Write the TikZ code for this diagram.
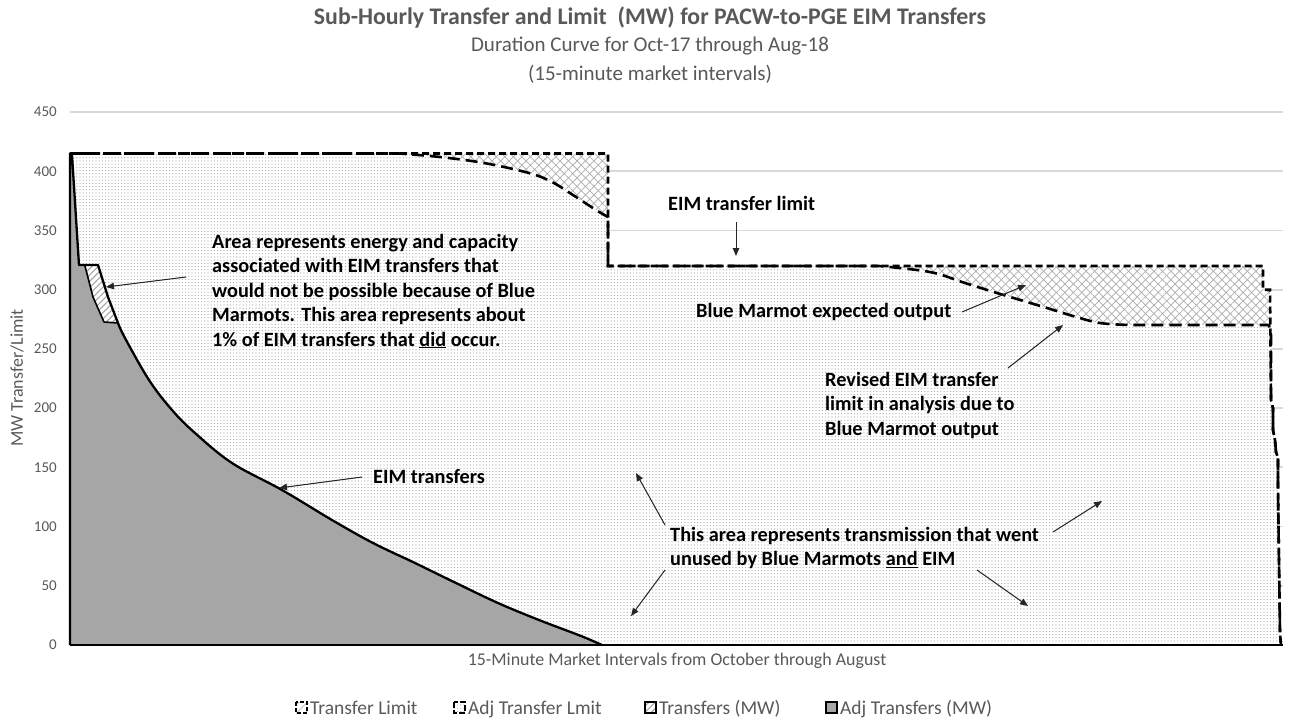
\documentclass[tikz,border=0pt]{standalone}
\usepackage{fontspec}
\setmainfont{Carlito}
\usetikzlibrary{patterns,patterns.meta,arrows.meta}
\definecolor{txtgray}{HTML}{595959}
\definecolor{gridgray}{HTML}{D9D9D9}
\definecolor{areagray}{HTML}{A6A6A6}
\def\TLpath{(70,645) -- (70,153.5) -- (608,153.5) -- (608,266) -- (1263,266) -- (1263,289.7) -- (1270,289.7) -- (1271,400) -- (1273,408) -- (1273,430) -- (1275,440) -- (1276,452) -- (1278,458) -- (1278,490) -- (1280,633) -- (1281,645) -- cycle}
\def\ALpath{(70,645) -- (70,153.5) -- (399,153.5) -- plot[smooth,tension=0.6] coordinates {(399,153.5) (440,157) (484,163) (529,173) (552,182) (573,195) (596,210) (608,217)} -- (608,266) -- (879,266) -- plot[smooth,tension=0.6] coordinates {(879,266) (930,272) (965,283) (997,293) (1047,308) (1073,316) (1100,323) (1130,325)} -- (1269,325) -- (1271,335) -- (1271,400) -- (1273,408) -- (1273,430) -- (1275,440) -- (1276,452) -- (1278,458) -- (1278,490) -- (1280,633) -- (1281,645) -- cycle}
\begin{document}
\begin{tikzpicture}[x=1pt,y=-1pt,
  grid/.style={draw=gridgray,line width=1.8pt},
  ticklab/.style={anchor=east,text=txtgray,inner sep=0pt,font=\fontsize{15}{18}\selectfont},
  note/.style={anchor=west,align=left,inner sep=0pt,font=\bfseries\fontsize{20.3}{24.5}\selectfont},
  arr/.style={-{Triangle[length=8pt,width=6.5pt]},line width=1pt,draw=black!85,fill=black},
  tlline/.style={draw=black,line width=2.6pt,dash pattern=on 7pt off 4pt},
  alline/.style={draw=black,line width=2.6pt,dash pattern=on 12pt off 6pt},
  outline/.style={draw=black,line width=2.3pt,line join=round},
  legtext/.style={anchor=base west,inner sep=0pt,text=txtgray,font=\fontsize{19.5}{22}\selectfont},
  weaveA/.style={pattern={Lines[angle=45,distance=6pt,line width=0.7pt]},pattern color=gray!65},
  weaveB/.style={pattern={Lines[angle=-45,distance=6pt,line width=0.7pt]},pattern color=gray!65},
  dotfill/.style={pattern={Dots[distance=3.2pt,radius=0.6pt]},pattern color=gray!70},
  hatch/.style={pattern={Lines[angle=45,distance=4.5pt,line width=1.1pt]},pattern color=gray!70},
  titlefont/.style={text=txtgray,inner sep=0pt}
]
\useasboundingbox (0,0) rectangle (1291,721);
\fill[white] (0,0) rectangle (1291,721);
% titles
\node[titlefont,font=\bfseries\fontsize{23.8}{28}\selectfont] (t1) at (650,18) {Sub-Hourly Transfer and Limit\ \ (MW) for PACW-to-PGE EIM Transfers};
\node[titlefont,font=\fontsize{21}{25}\selectfont] (t2) at (650,46) {Duration Curve for Oct-17 through Aug-18};
\node[titlefont,font=\fontsize{21}{25}\selectfont] (t3) at (650,74) {(15-minute market intervals)};
% gridlines and tick labels
\foreach \v in {50,100,...,450} {
  \draw[grid] (70,{645-\v*1.1844}) -- (1283,{645-\v*1.1844});
  \node[ticklab] (lab\v) at (57,{645-\v*1.1844}) {\v};
}
\node[ticklab] (lab0) at (57,645) {0};
% axis titles
\node[text=txtgray,rotate=90,inner sep=0pt,font=\fontsize{18}{21}\selectfont] (ytitle) at (17,378) {MW Transfer/Limit};
\node[text=txtgray,inner sep=0pt,font=\fontsize{17.9}{21}\selectfont] (xtitle) at (677,661) {15-Minute Market Intervals from October through August};
% Transfer limit area (weave)
\fill[white] \TLpath;
\fill[weaveA] \TLpath;
\fill[weaveB] \TLpath;
% Adj transfer limit area (dots)
\fill[white] \ALpath;
\fill[dotfill] \ALpath;
% Adj transfers (gray)
\fill[areagray] (70,645) -- (70,153.5) -- (72,155) -- (79,265) -- (85,266) -- (104,322) -- (118,323) -- plot[smooth,tension=0.6] coordinates {(118,323) (125,338) (149,380) (172,410) (195,433) (232,463) (282,490) (332,520) (373,543) (415,563) (456,583) (498,603) (539,620) (581,636) (602,645)} -- cycle;
% Transfers hatch
\fill[white] (79,265) -- (98,265) -- (108,297) -- (118,323) -- (104,322) -- (93,297) -- (85,266) -- cycle;
\fill[hatch] (79,265) -- (98,265) -- (108,297) -- (118,323) -- (104,322) -- (93,297) -- (85,266) -- cycle;
\draw[line width=1.6pt,line join=round] (85,266) -- (93,297) -- (104,322) -- (118,323);
\draw[outline] (70,645) -- (70,153.5) -- (72,155) -- (79,265) -- (98,265) -- (108,297) -- (118,323) -- plot[smooth,tension=0.6] coordinates {(118,323) (125,338) (149,380) (172,410) (195,433) (232,463) (282,490) (332,520) (373,543) (415,563) (456,583) (498,603) (539,620) (581,636) (602,645)};
% dashed limit lines
\draw[alline] (70,153.5) -- (399,153.5) -- plot[smooth,tension=0.6] coordinates {(399,153.5) (440,157) (484,163) (529,173) (552,182) (573,195) (596,210) (608,217)} -- (608,266) -- (879,266) -- plot[smooth,tension=0.6] coordinates {(879,266) (930,272) (965,283) (997,293) (1047,308) (1073,316) (1100,323) (1130,325)} -- (1269,325) -- (1271,335) -- (1271,400) -- (1273,408) -- (1273,430) -- (1275,440) -- (1276,452) -- (1278,458) -- (1278,490) -- (1280,633) -- (1281,645);
\draw[tlline] (70,153.5) -- (608,153.5) -- (608,266) -- (1263,266) -- (1263,289.7) -- (1270,289.7) -- (1271,400) -- (1273,408) -- (1273,430) -- (1275,440) -- (1276,452) -- (1278,458) -- (1278,490) -- (1280,633) -- (1281,645);
% x axis
\draw[line width=2.4pt] (70,645) -- (1283,645);
% annotations
\node[note] (area) at (212,291) {Area represents energy and capacity\\associated with EIM transfers that\\would not be possible because of Blue\\Marmots. This area represents about\\1\% of EIM transfers that \underline{did} occur.};
\node[note] (limitlbl) at (668,203) {EIM transfer limit};
\node[note] (bmout) at (696,312) {Blue Marmot expected output};
\node[note] (revised) at (825,405) {Revised EIM transfer\\limit in analysis due to\\Blue Marmot output};
\node[note] (unused) at (670,548) {This area represents transmission that went\\unused by Blue Marmots \underline{and} EIM};
\node[note] (eimtr) at (373,477) {EIM transfers};
% arrow coordinates
\coordinate (a1s) at (186,277); \coordinate (a1e) at (106,287);
\coordinate (a2s) at (736,222); \coordinate (a2e) at (736,256);
\coordinate (a3s) at (962,312); \coordinate (a3e) at (1026,285);
\coordinate (a4s) at (1008,368); \coordinate (a4e) at (1063,325);
\coordinate (a5s) at (362,477); \coordinate (a5e) at (279,488);
\coordinate (a6s) at (665,525); \coordinate (a6e) at (636,473);
\coordinate (a7s) at (665,570); \coordinate (a7e) at (631,616);
\coordinate (a8s) at (977,570); \coordinate (a8e) at (1028,606);
\coordinate (a9s) at (1053,532); \coordinate (a9e) at (1102,501);
\foreach \i in {1,...,9} { \draw[arr] (a\i s) -- (a\i e); }
% legend
\fill[white] (296,702) rectangle (307,713);
\fill[weaveA] (296,702) rectangle (307,713);
\draw[line width=1.6pt,dash pattern=on 4pt off 2pt] (296,702) rectangle (307,713);
\node[legtext] (leg1) at (310,714) {Transfer Limit};
\fill[dotfill] (454,702) rectangle (465,713);
\draw[line width=2pt,dash pattern=on 6pt off 2pt] (454,702) rectangle (465,713);
\node[legtext] (leg2) at (468,714) {Adj Transfer Lmit};
\fill[hatch] (645,702) rectangle (656,713);
\draw[line width=1.6pt] (645,702) rectangle (656,713);
\node[legtext] (leg3) at (659,714) {Transfers (MW)};
\fill[areagray] (826,702) rectangle (837,713);
\draw[line width=1.6pt] (826,702) rectangle (837,713);
\node[legtext] (leg4) at (840,714) {Adj Transfers (MW)};
\end{tikzpicture}
\end{document}
